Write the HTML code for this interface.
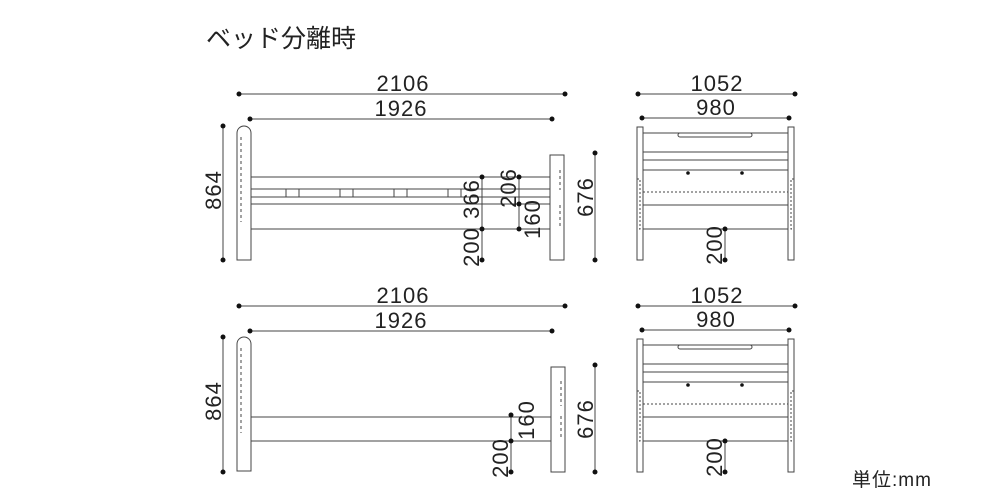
<!DOCTYPE html>
<html><head><meta charset="utf-8"><style>
html,body{margin:0;padding:0;background:#fff;width:1000px;height:500px;overflow:hidden}
svg{display:block}
text{font-family:"Liberation Sans","Noto Sans CJK JP",sans-serif;fill:#222}
.d text{letter-spacing:1px}
</style></head><body>
<svg width="1000" height="500" viewBox="0 0 1000 500" xmlns="http://www.w3.org/2000/svg">
<defs>
<g id="hb" fill="none" stroke="#444" stroke-width="1">
  <path d="M237,260 V133 A7,7 0 0 1 251,133 V260 Z" />
  <path d="M241,137 V200 M241,203 V222" stroke-dasharray="3,3"/>
</g>
<g id="endv" stroke="#444" stroke-width="1" fill="none">
  <rect x="637" y="127" width="6" height="133"/>
  <rect x="788" y="127" width="6" height="133"/>
  <line x1="643" y1="133" x2="788" y2="133"/>
  <line x1="643" y1="152" x2="788" y2="152"/>
  <line x1="643" y1="160" x2="788" y2="160"/>
  <line x1="643" y1="170" x2="788" y2="170"/>
  <line x1="643" y1="192" x2="788" y2="192" stroke-dasharray="2,2"/>
  <line x1="643" y1="205" x2="788" y2="205"/>
  <line x1="643" y1="229" x2="788" y2="229"/>
  <rect x="678" y="133" width="74" height="4" rx="2"/>
  <path d="M637,179 h3 v50 h-3 M794,179 h-3 v50 h3" stroke-dasharray="2,2"/>
  <circle cx="688" cy="173" r="1.8" fill="#111" stroke="none"/>
  <circle cx="742" cy="173" r="1.8" fill="#111" stroke="none"/>
  <line x1="725" y1="229" x2="725" y2="260"/>
  <circle cx="725" cy="229" r="2.5" fill="#111" stroke="none"/>
  <circle cx="725" cy="260" r="2.5" fill="#111" stroke="none"/>
  <line x1="638" y1="94" x2="795" y2="94"/>
  <circle cx="638" cy="94" r="2.5" fill="#111" stroke="none"/>
  <circle cx="795" cy="94" r="2.5" fill="#111" stroke="none"/>
  <line x1="642" y1="118" x2="789" y2="118"/>
  <circle cx="642" cy="118" r="2.5" fill="#111" stroke="none"/>
  <circle cx="789" cy="118" r="2.5" fill="#111" stroke="none"/>
</g>
</defs>
<text x="206" y="47" font-size="25">ベッド分離時</text>

<g stroke="#444" stroke-width="1" fill="none">
  <use href="#hb"/>
  <rect x="550" y="155" width="14" height="105"/>
  <path d="M560,170 V190 M560,205 V228" stroke-dasharray="3,3"/>
  <line x1="251" y1="177" x2="550" y2="177"/>
  <line x1="251" y1="189" x2="550" y2="189"/>
  <line x1="251" y1="197" x2="550" y2="197"/>
  <line x1="251" y1="204" x2="550" y2="204"/>
  <line x1="251" y1="229" x2="550" y2="229"/>
  <path d="M286,189 V197 M299,189 V197 M340,189 V197 M353,189 V197 M394,189 V197 M407,189 V197 M448,189 V197 M461,189 V197"/>
  <line x1="239" y1="94" x2="565" y2="94"/>
  <line x1="250" y1="119" x2="552" y2="119"/>
  <line x1="223" y1="126" x2="223" y2="260"/>
  <line x1="595" y1="153" x2="595" y2="260"/>
  <line x1="482" y1="177" x2="482" y2="260"/>
  <line x1="519" y1="177" x2="519" y2="229"/>
</g>
<g fill="#111">
  <circle cx="239" cy="94" r="2.5"/><circle cx="565" cy="94" r="2.5"/>
  <circle cx="250" cy="119" r="2.5"/><circle cx="552" cy="119" r="2.5"/>
  <circle cx="223" cy="126" r="2.5"/><circle cx="223" cy="260" r="2.5"/>
  <circle cx="595" cy="153" r="2.5"/><circle cx="595" cy="260" r="2.5"/>
  <circle cx="482" cy="177" r="2.5"/><circle cx="482" cy="229" r="2.5"/><circle cx="482" cy="260" r="2.5"/>
  <circle cx="519" cy="177" r="2.5"/><circle cx="519" cy="204" r="2.5"/><circle cx="519" cy="229" r="2.5"/>
</g>
<g class="d" font-size="22" text-anchor="middle">
  <text x="403" y="91">2106</text>
  <text x="401" y="116">1926</text>
  <text transform="translate(221,190) rotate(-90)">864</text>
  <text transform="translate(593,197) rotate(-90)">676</text>
  <text transform="translate(479,199) rotate(-90)">366</text>
  <text transform="translate(479,247) rotate(-90)">200</text>
  <text transform="translate(516,188) rotate(-90)">206</text>
  <text transform="translate(540,219) rotate(-90)">160</text>
</g>

<g transform="translate(0,211)">
<g stroke="#444" stroke-width="1" fill="none">
  <use href="#hb"/>
  <rect x="551" y="156" width="14" height="105"/>
  <path d="M561,170 V195 M561,205 V228" stroke-dasharray="3,3"/>
  <line x1="251" y1="206" x2="551" y2="206"/>
  <line x1="251" y1="230" x2="551" y2="230"/>
  <line x1="239" y1="95" x2="565" y2="95"/>
  <line x1="250" y1="120" x2="552" y2="120"/>
  <line x1="223" y1="126" x2="223" y2="261"/>
  <line x1="595" y1="154" x2="595" y2="261"/>
  <line x1="511" y1="204" x2="511" y2="261"/>
</g>
<g fill="#111">
  <circle cx="239" cy="95" r="2.5"/><circle cx="565" cy="95" r="2.5"/>
  <circle cx="250" cy="120" r="2.5"/><circle cx="552" cy="120" r="2.5"/>
  <circle cx="223" cy="126" r="2.5"/><circle cx="223" cy="261" r="2.5"/>
  <circle cx="595" cy="154" r="2.5"/><circle cx="595" cy="261" r="2.5"/>
  <circle cx="511" cy="204" r="2.5"/><circle cx="511" cy="230" r="2.5"/><circle cx="511" cy="261" r="2.5"/>
</g>
<g class="d" font-size="22" text-anchor="middle">
  <text x="403" y="92">2106</text>
  <text x="401" y="117">1926</text>
  <text transform="translate(221,190) rotate(-90)">864</text>
  <text transform="translate(593,208) rotate(-90)">676</text>
  <text transform="translate(534,209) rotate(-90)">160</text>
  <text transform="translate(508,247) rotate(-90)">200</text>
</g>
</g>

<use href="#endv"/>
<g class="d" font-size="22" text-anchor="middle">
  <text x="717" y="91">1052</text>
  <text x="716" y="115">980</text>
  <text transform="translate(722,245) rotate(-90)">200</text>
</g>
<g transform="translate(0,212)">
<use href="#endv"/>
<g class="d" font-size="22" text-anchor="middle">
  <text x="717" y="91">1052</text>
  <text x="716" y="115">980</text>
  <text transform="translate(722,245) rotate(-90)">200</text>
</g>
</g>
<text x="852" y="486" font-size="19" letter-spacing="1">単位:mm</text>
</svg>
</body></html>
